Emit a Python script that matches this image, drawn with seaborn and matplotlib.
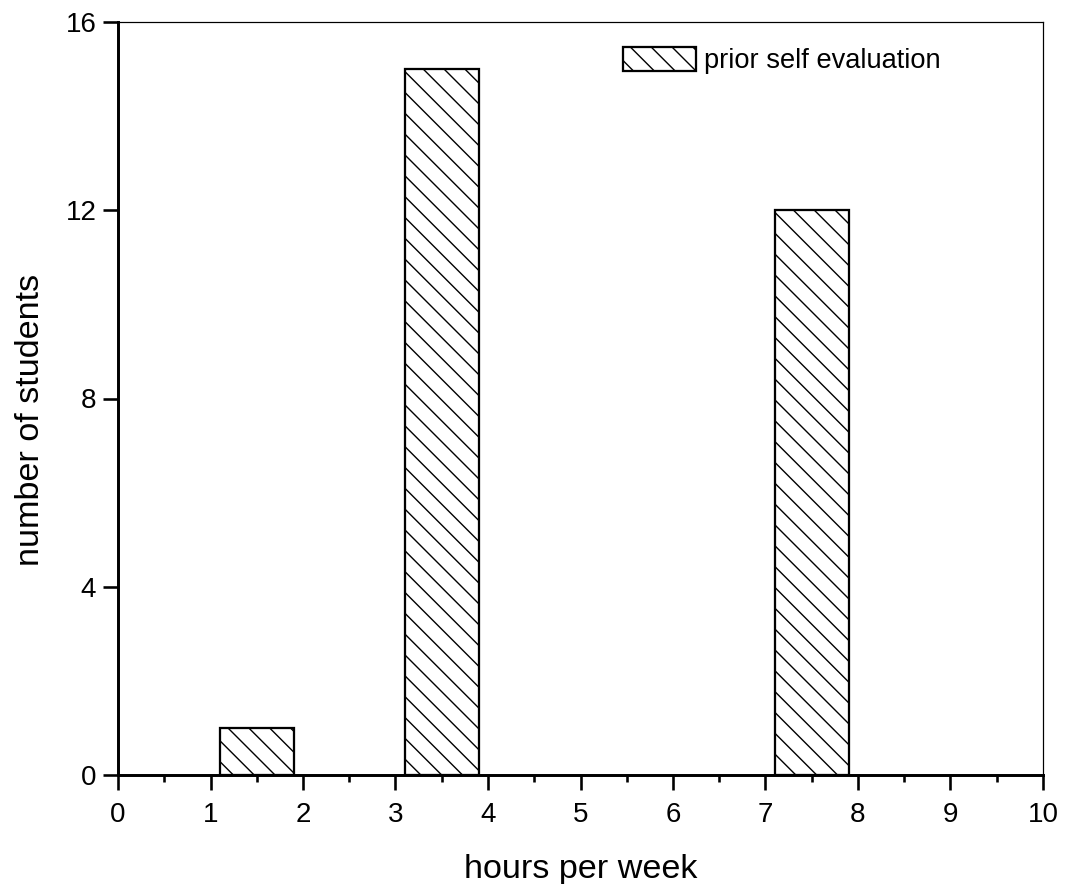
import matplotlib
matplotlib.use("Agg")
import matplotlib.pyplot as plt
from matplotlib.ticker import MultipleLocator
import pandas as pd
import seaborn as sns

# Weekly study hours (bin centres) and how many students reported each
hours = [1.5, 3.5, 7.5]
students = [1, 15, 12]
series_label = "prior self evaluation"

sns.set_theme(style="ticks")
plt.rcParams["font.family"] = ["Liberation Sans", "DejaVu Sans"]
plt.rcParams["hatch.linewidth"] = 0.8
for key in ("text.color", "axes.labelcolor", "xtick.color", "ytick.color",
            "xtick.labelcolor", "ytick.labelcolor", "axes.edgecolor"):
    plt.rcParams[key] = "black"

df = pd.DataFrame({"hours": hours, "students": students})

DPI = 125
fig = plt.figure(figsize=(1074 / DPI, 884 / DPI), dpi=DPI)
ax = fig.add_axes([118 / 1074, 1 - 775 / 884, (1043 - 118) / 1074, (775 - 22) / 884])

sns.barplot(data=df, x="hours", y="students", native_scale=True, width=0.4,
            color="white", edgecolor="black", linewidth=1.3, saturation=1,
            label=series_label, ax=ax)
for p in ax.patches:
    p.set_hatch("\\\\")
    p.set_facecolor("white")
    p.set_edgecolor("black")

ax.set_xlim(0, 10)
ax.set_ylim(0, 16)
ax.xaxis.set_major_locator(MultipleLocator(1))
ax.xaxis.set_minor_locator(MultipleLocator(0.5))
ax.yaxis.set_major_locator(MultipleLocator(4))

for side in ("left", "bottom"):
    ax.spines[side].set_linewidth(1.7)
for side in ("top", "right"):
    ax.spines[side].set_visible(True)
    ax.spines[side].set_linewidth(0.7)

ax.tick_params(axis="both", which="major", direction="out", length=8.5,
               width=1.5, labelsize=16, pad=4)
ax.tick_params(axis="x", which="major", pad=7)
ax.tick_params(axis="x", which="minor", direction="out", length=4, width=1.5)
ax.tick_params(top=False, right=False, which="both")

ax.set_xlabel("hours per week", fontsize=19.7, labelpad=15)
ax.set_ylabel("number of students", fontsize=19.7, labelpad=11)
ax.yaxis.label.set_y(0.471)

leg = ax.legend(loc="upper left", bbox_to_anchor=(0.546, 0.967), frameon=False,
                fontsize=15.7, handlelength=2.67, handleheight=1.0,
                handletextpad=0.3, borderaxespad=0, borderpad=0)

fig.savefig("out.png", dpi=DPI, facecolor="white")
